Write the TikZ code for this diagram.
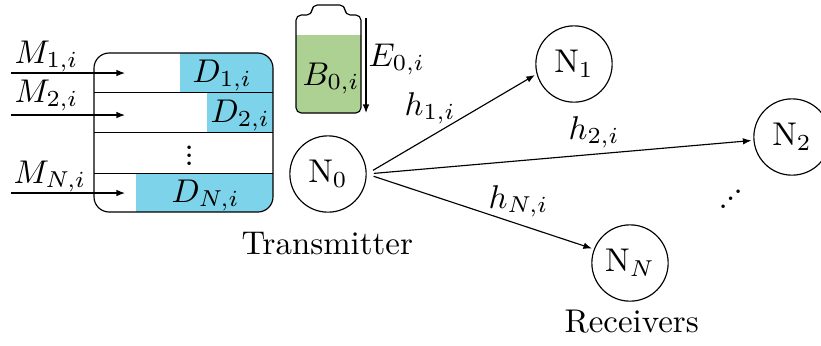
\documentclass[tikz,border=0pt]{standalone}
\usetikzlibrary{arrows.meta}
\definecolor{bufblue}{HTML}{7DD3E9}
\definecolor{batgreen}{HTML}{ACD192}
\newcommand{\tightvdots}{\vbox{\baselineskip=2.35pt\lineskiplimit=-10pt\hbox{.}\hbox{.}\hbox{.}}}
\newcommand{\tightiddots}{\hbox{.\kern-0.5pt\raise2.2pt\hbox{.}\kern-0.5pt\raise4.4pt\hbox{.}}}
\tikzset{
  px/.style={x=0.304pt,y=-0.304pt},
  nodecirc/.style={circle,draw,line width=0.35pt,minimum size=23.2pt,inner sep=0pt},
  lab/.style={inner sep=0pt,anchor=base west},
  arr/.style={-{Latex[length=2.6pt,width=2pt]},line width=0.35pt},
  rowline/.style={line width=0.28pt},
}
\begin{document}
\begin{tikzpicture}[px]
\useasboundingbox (0,0) rectangle (821,345);
% buffer
\begin{scope}
\clip[rounded corners=4.6pt] (94,53) rectangle (273,212);
\fill[bufblue] (180,53) rectangle (273,92);
\fill[bufblue] (207,92) rectangle (273,132);
\fill[bufblue] (136,173) rectangle (273,212);
\end{scope}
\draw[line width=0.35pt,rounded corners=4.6pt] (94,53) rectangle (273,212);
\draw[rowline] (94,92) -- (273,92);
\draw[rowline] (94,132) -- (273,132);
\draw[rowline] (94,173) -- (273,173);
\node[lab] (d1) at (192,82) {$D_{1,i}$};
\node[lab] (d2) at (210,122) {$D_{2,i}$};
\node[lab] (dn) at (171,202) {$D_{N,i}$};
\node[lab] (vd) at (184,165) {\tightvdots};
% inputs
\coordinate (m1s) at (11,73); \coordinate (m1e) at (125,73);
\coordinate (m2s) at (11,115); \coordinate (m2e) at (125,115);
\coordinate (mns) at (11,193); \coordinate (mne) at (125,193);
\draw[arr] (m1s) -- (m1e);
\draw[arr] (m2s) -- (m2e);
\draw[arr] (mns) -- (mne);
\node[lab] (m1) at (14,63) {$M_{1,i}$};
\node[lab] (m2) at (14,102) {$M_{2,i}$};
\node[lab] (mn) at (13,183) {$M_{N,i}$};
% battery
\fill[batgreen] (296,35) -- (361,35) [rounded corners=1.6pt] -- (361,113) -- (296,113) [sharp corners] -- cycle;
\draw[line width=0.35pt,rounded corners=1.6pt] (328,113) -- (296,113) -- (296,15) -- (312,15) -- (312,5) -- (345,5) -- (345,15) -- (361,15) -- (361,113) -- cycle;
\node[lab] (b0) at (302,85) {$B_{0,i}$};
\coordinate (es) at (366,18); \coordinate (ee) at (366,113);
\draw[arr] (es) -- (ee);
\node[lab] (e0) at (368,66) {$E_{0,i}$};
% nodes
\node[nodecirc] (N0) at (328,174) {$\mathrm{N}_0$};
\node[nodecirc] (N1) at (574,64) {$\mathrm{N}_1$};
\node[nodecirc] (N2) at (792,137) {$\mathrm{N}_2$};
\node[nodecirc] (NN) at (630,263) {$\mathrm{N}_N$};
\draw[arr,shorten <=2.2pt,shorten >=0.6pt] (N0.east) -- (N1.195);
\draw[arr,shorten <=2.2pt,shorten >=0.6pt] (N0.east) -- (N2.185);
\draw[arr,shorten <=2.2pt,shorten >=0.6pt] (N0.east) -- (NN.159);
\node[lab] (h1) at (404,115) {$h_{1,i}$};
\node[lab] (h2) at (568,139) {$h_{2,i}$};
\node[lab] (hn) at (488,208) {$h_{N,i}$};
\node[lab] (dd) at (718,208) {\tightiddots};
\node[lab] (tx) at (241,254) {Transmitter};
\node[lab] (rx) at (564,332) {Receivers};
\end{tikzpicture}
\end{document}
